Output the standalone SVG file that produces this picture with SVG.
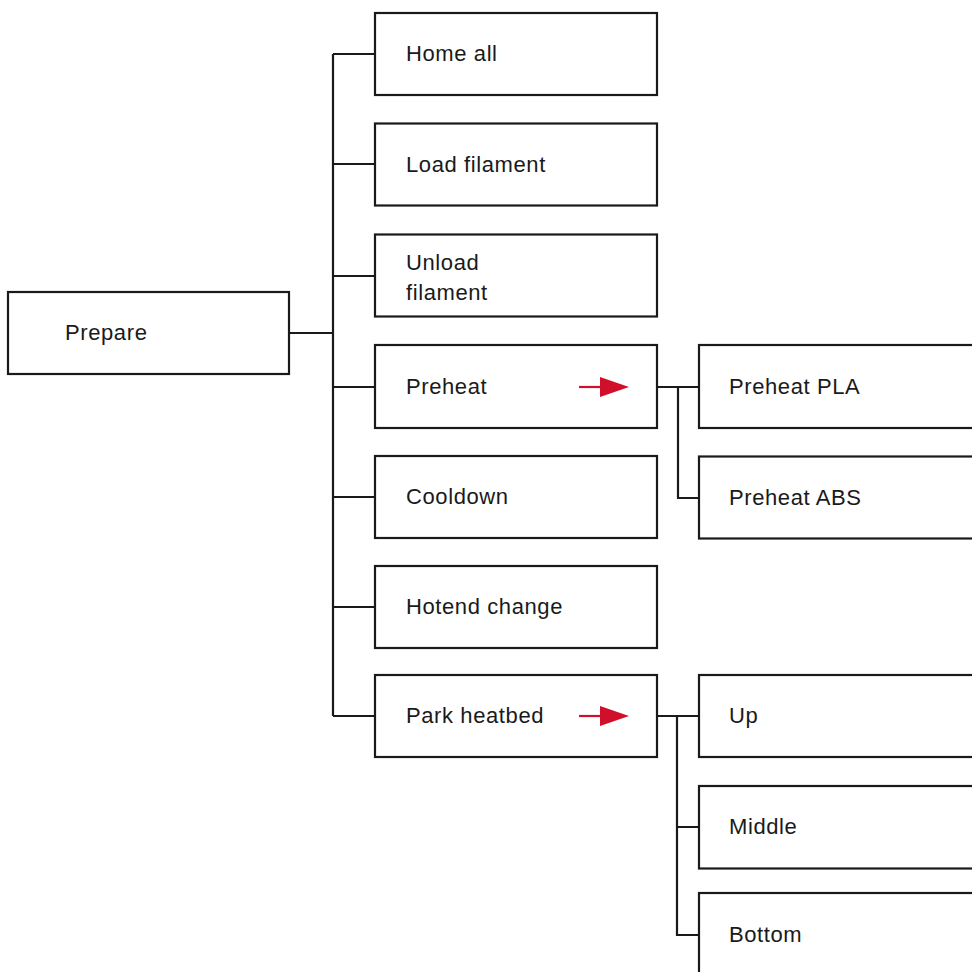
<svg xmlns="http://www.w3.org/2000/svg" width="972" height="972" viewBox="0 0 972 972">
<style>
.box{fill:#fff;stroke:#1a1a1a;stroke-width:2.2}
.lbl{font-family:"Liberation Sans",Arial,sans-serif;font-size:22px;fill:#1a1a1a;letter-spacing:0.6px}
.con{fill:none;stroke:#1a1a1a;stroke-width:2.2}
.arr{stroke:#d0102a;stroke-width:2.2;fill:none}
.tri{fill:#d0102a}
</style>
<rect width="972" height="972" fill="#fff"/>
<g id="connectors">
<path class="con" d="M289 333H333M333 54V716M333 54H375M333 164H375M333 276H375M333 387H375M333 497H375M333 607H375M333 716H375"/>
<path class="con" d="M657 387H699M678 387V498H699"/>
<path class="con" d="M657 716H699M677 716V827H699M677 827V935H699"/>
</g>
<g id="prepare"><rect class="box" x="8" y="292" width="281" height="82"/><text class="lbl" x="65" y="340">Prepare</text></g>
<g id="home-all"><rect class="box" x="375" y="13" width="282" height="82"/><text class="lbl" x="406" y="61">Home all</text></g>
<g id="load-filament"><rect class="box" x="375" y="123.5" width="282" height="82"/><text class="lbl" x="406" y="172">Load filament</text></g>
<g id="unload-filament"><rect class="box" x="375" y="234.5" width="282" height="82"/><text class="lbl" x="406" y="270">Unload</text><text class="lbl" x="406" y="300">filament</text></g>
<g id="preheat"><rect class="box" x="375" y="345" width="282" height="83"/><text class="lbl" x="406" y="394">Preheat</text><line class="arr" x1="579" y1="387" x2="602" y2="387"/><polygon class="tri" points="600,377 629,387 600,397"/></g>
<g id="cooldown"><rect class="box" x="375" y="456" width="282" height="82"/><text class="lbl" x="406" y="504">Cooldown</text></g>
<g id="hotend-change"><rect class="box" x="375" y="566" width="282" height="82"/><text class="lbl" x="406" y="614">Hotend change</text></g>
<g id="park-heatbed"><rect class="box" x="375" y="675" width="282" height="82"/><text class="lbl" x="406" y="723">Park heatbed</text><line class="arr" x1="579" y1="716" x2="602" y2="716"/><polygon class="tri" points="600,706 629,716 600,726"/></g>
<g id="preheat-pla"><rect class="box" x="699" y="345" width="290" height="83"/><text class="lbl" x="729" y="394">Preheat PLA</text></g>
<g id="preheat-abs"><rect class="box" x="699" y="456.5" width="290" height="82"/><text class="lbl" x="729" y="505">Preheat ABS</text></g>
<g id="up"><rect class="box" x="699" y="675" width="290" height="82"/><text class="lbl" x="729" y="723">Up</text></g>
<g id="middle"><rect class="box" x="699" y="786" width="290" height="82.5"/><text class="lbl" x="729" y="834">Middle</text></g>
<g id="bottom"><rect class="box" x="699" y="893" width="290" height="100"/><text class="lbl" x="729" y="942">Bottom</text></g>
</svg>
